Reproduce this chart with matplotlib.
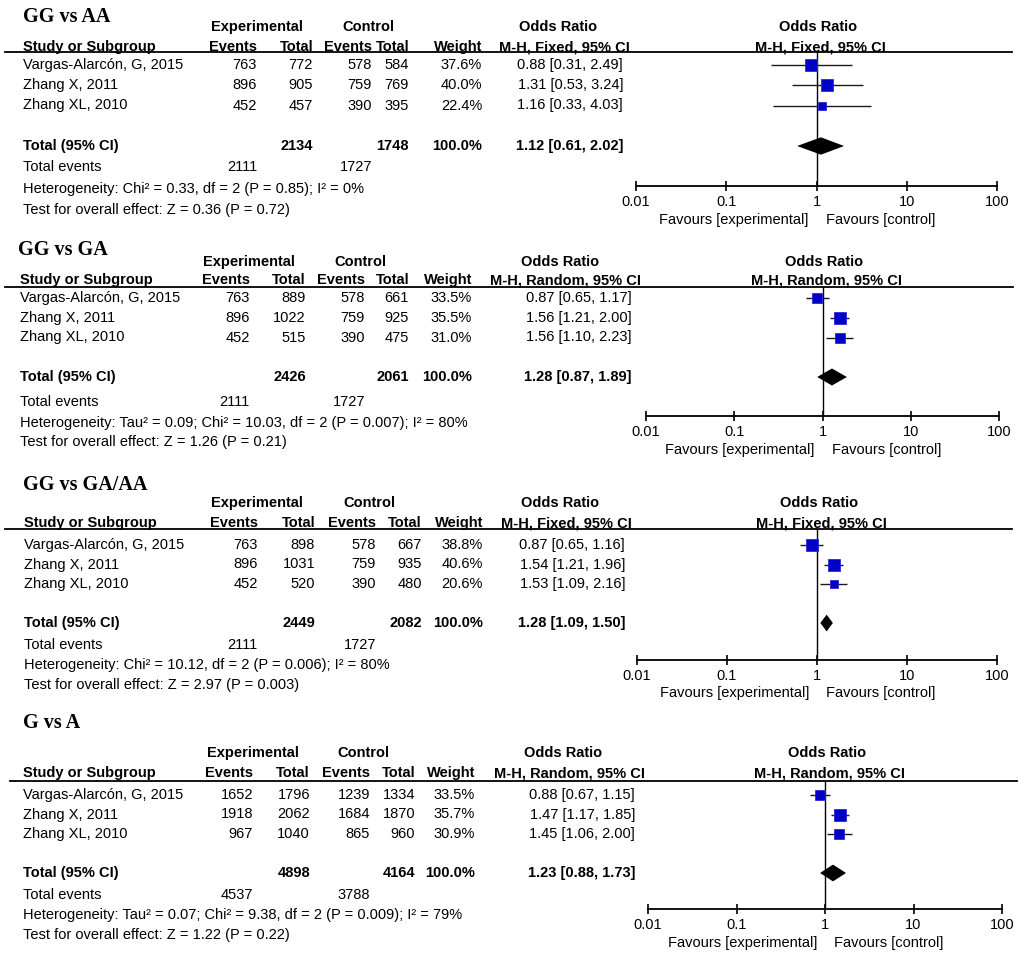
import matplotlib
matplotlib.use("Agg")
import matplotlib.pyplot as plt
from matplotlib.lines import Line2D
import numpy as np

# ---------------- data ----------------
panel_titles = ["GG vs AA", "GG vs GA", "GG vs GA/AA", "G vs A"]
methods = ["Fixed", "Random", "Fixed", "Random"]
studies = ["Vargas-Alarcón, G, 2015", "Zhang X, 2011", "Zhang XL, 2010"]

exp_events = [[763, 896, 452], [763, 896, 452], [763, 896, 452], [1652, 1918, 967]]
exp_totals = [[772, 905, 457], [889, 1022, 515], [898, 1031, 520], [1796, 2062, 1040]]
ctrl_events = [[578, 759, 390], [578, 759, 390], [578, 759, 390], [1239, 1684, 865]]
ctrl_totals = [[584, 769, 395], [661, 925, 475], [667, 935, 480], [1334, 1870, 960]]
weights = [[37.6, 40.0, 22.4], [33.5, 35.5, 31.0], [38.8, 40.6, 20.6], [33.5, 35.7, 30.9]]
odds_ratios = [[0.88, 1.31, 1.16], [0.87, 1.56, 1.56], [0.87, 1.54, 1.53], [0.88, 1.47, 1.45]]
ci_lower = [[0.31, 0.53, 0.33], [0.65, 1.21, 1.10], [0.65, 1.21, 1.09], [0.67, 1.17, 1.06]]
ci_upper = [[2.49, 3.24, 4.03], [1.17, 2.00, 2.23], [1.16, 1.96, 2.16], [1.15, 1.85, 2.00]]

total_exp = [2134, 2426, 2449, 4898]
total_ctrl = [1748, 2061, 2082, 4164]
total_exp_events = [2111, 2111, 2111, 4537]
total_ctrl_events = [1727, 1727, 1727, 3788]
pooled_or = [1.12, 1.28, 1.28, 1.23]
pooled_lo = [0.61, 0.87, 1.09, 0.88]
pooled_hi = [2.02, 1.89, 1.50, 1.73]
heterogeneity = [
    "Chi² = 0.33, df = 2 (P = 0.85); I² = 0%",
    "Tau² = 0.09; Chi² = 10.03, df = 2 (P = 0.007); I² = 80%",
    "Chi² = 10.12, df = 2 (P = 0.006); I² = 80%",
    "Tau² = 0.07; Chi² = 9.38, df = 2 (P = 0.009); I² = 79%",
]
overall_effect = [
    "Z = 0.36 (P = 0.72)",
    "Z = 1.26 (P = 0.21)",
    "Z = 2.97 (P = 0.003)",
    "Z = 1.22 (P = 0.22)",
]
axis_ticks = [0.01, 0.1, 1, 10, 100]
tick_labels = ["0.01", "0.1", "1", "10", "100"]

# ---------------- layout (pixels) ----------------
layout = [
    dict(title=(23, 17), tx=23, hdr1=27, hdr2=47, uline=52, ux=(5, 1012), row0=65, total=146,
         tev=167, het=189, test=210, cols=[257, 313, 372, 409, 482], expc=257, ctlc=368,
         orr=623, orc=558, fx=(636, 997), axis=186, fav=220),
    dict(title=(18, 250), tx=20, hdr1=262, hdr2=280, uline=287, ux=(5, 1013), row0=298, total=377,
         tev=402, het=423, test=442, cols=[250, 306, 365, 409, 472], expc=249, ctlc=360,
         orr=632, orc=560, fx=(646, 999), axis=416, fav=450),
    dict(title=(23, 485), tx=24, hdr1=503, hdr2=523, uline=529, ux=(5, 1012), row0=545, total=623,
         tev=645, het=665, test=685, cols=[258, 315, 376, 422, 483], expc=257, ctlc=369,
         orr=625, orc=560, fx=(637, 997), axis=660, fav=693),
    dict(title=(23, 723), tx=23, hdr1=753, hdr2=773, uline=781, ux=(10, 1017), row0=795, total=873,
         tev=895, het=915, test=935, cols=[253, 310, 370, 415, 475], expc=253, ctlc=363,
         orr=635, orc=563, fx=(648, 1002), axis=909, fav=943),
]

W, H = 1024, 960
fig = plt.figure(figsize=(W / 100, H / 100), dpi=100)
fig.patch.set_facecolor("white")

SANS = "Liberation Sans"
SERIF = "Liberation Serif"
FS = 10.5
BLUE = "#0000c8"


def T(x, y, s, ha="left", bold=False, size=FS, family=SANS):
    fig.text(x / W, 1 - y / H, s, ha=ha, va="center", fontsize=size,
             fontweight="bold" if bold else "normal", family=family, color="black")


for p in range(4):
    L = layout[p]
    sp = (L["total"] - L["row0"]) / 4.0
    rows_y = [L["row0"] + i * sp for i in range(3)]
    tx = L["tx"]

    # title
    T(L["title"][0], L["title"][1], panel_titles[p], bold=True, size=14.5, family=SERIF)

    # headers
    T(L["expc"], L["hdr1"], "Experimental", ha="center", bold=True)
    T(L["ctlc"], L["hdr1"], "Control", ha="center", bold=True)
    T(L["orc"], L["hdr1"], "Odds Ratio", ha="center", bold=True)
    fmid = (L["fx"][0] + L["fx"][1]) / 2.0
    T(fmid + 2, L["hdr1"], "Odds Ratio", ha="center", bold=True)
    mh = "M-H, %s, 95%% CI" % methods[p]
    T(tx, L["hdr2"], "Study or Subgroup", bold=True)
    for c, lab in zip(L["cols"], ["Events", "Total", "Events", "Total", "Weight"]):
        T(c, L["hdr2"], lab, ha="right", bold=True)
    T(L["orc"] + 6, L["hdr2"], mh, ha="center", bold=True)
    T(fmid + 4, L["hdr2"], mh, ha="center", bold=True)

    # underline
    fig.add_artist(Line2D([L["ux"][0] / W, L["ux"][1] / W], [1 - L["uline"] / H] * 2,
                          transform=fig.transFigure, color="black", lw=1.3))

    # study rows
    for i in range(3):
        y = rows_y[i]
        T(tx, y, studies[i])
        vals = [str(exp_events[p][i]), str(exp_totals[p][i]), str(ctrl_events[p][i]),
                str(ctrl_totals[p][i]), "%.1f%%" % weights[p][i]]
        for c, v in zip(L["cols"], vals):
            T(c, y, v, ha="right")
        T(L["orr"], y, "%.2f [%.2f, %.2f]" % (odds_ratios[p][i], ci_lower[p][i], ci_upper[p][i]),
          ha="right")

    # total row
    yt = L["total"]
    T(tx, yt, "Total (95% CI)", bold=True)
    T(L["cols"][1], yt, str(total_exp[p]), ha="right", bold=True)
    T(L["cols"][3], yt, str(total_ctrl[p]), ha="right", bold=True)
    T(L["cols"][4], yt, "100.0%", ha="right", bold=True)
    T(L["orr"], yt, "%.2f [%.2f, %.2f]" % (pooled_or[p], pooled_lo[p], pooled_hi[p]),
      ha="right", bold=True)

    T(tx, L["tev"], "Total events")
    T(L["cols"][0], L["tev"], str(total_exp_events[p]), ha="right")
    T(L["cols"][2], L["tev"], str(total_ctrl_events[p]), ha="right")
    T(tx, L["het"], "Heterogeneity: " + heterogeneity[p])
    T(tx, L["test"], "Test for overall effect: " + overall_effect[p])

    # forest axes
    x0, x1 = L["fx"]
    ax = fig.add_axes([x0 / W, 1 - L["axis"] / H, (x1 - x0) / W, (L["axis"] - L["uline"]) / H])
    ax.set_xscale("log")
    ax.set_xlim(axis_ticks[0], axis_ticks[-1])
    ytop = (L["uline"] - L["row0"]) / sp
    ybot = (L["axis"] - L["row0"]) / sp
    ax.set_ylim(ybot, ytop)
    ax.patch.set_alpha(0)
    for s in ["top", "left", "right"]:
        ax.spines[s].set_visible(False)
    ax.spines["bottom"].set_linewidth(1.3)
    ax.set_yticks([])
    ax.set_xticks(axis_ticks)
    ax.set_xticklabels(tick_labels, fontsize=FS, family=SANS)
    ax.xaxis.set_minor_locator(matplotlib.ticker.NullLocator())
    ax.tick_params(axis="x", direction="inout", length=7.5, width=1.2, pad=2.5)
    ax.axvline(1, color="black", lw=1.0, zorder=1)

    for i in range(3):
        ax.hlines(i, ci_lower[p][i], ci_upper[p][i], color="#1a1a1a", lw=1.0, zorder=2)
        side_px = 1.9 * np.sqrt(weights[p][i])
        ax.plot([odds_ratios[p][i]], [i], marker="s", linestyle="none",
                markersize=side_px * 0.72, color=BLUE, markeredgecolor="#2a2ad8",
                markeredgewidth=0.6, zorder=3)

    h = 0.43
    ax.fill([pooled_lo[p], pooled_or[p], pooled_hi[p], pooled_or[p]],
            [4, 4 - h, 4, 4 + h], color="black", zorder=3, lw=0)

    # favours labels
    T(fmid - 8, L["fav"], "Favours [experimental]", ha="right")
    T(fmid + 9, L["fav"], "Favours [control]", ha="left")

fig.savefig("out.png", dpi=100, facecolor="white")
